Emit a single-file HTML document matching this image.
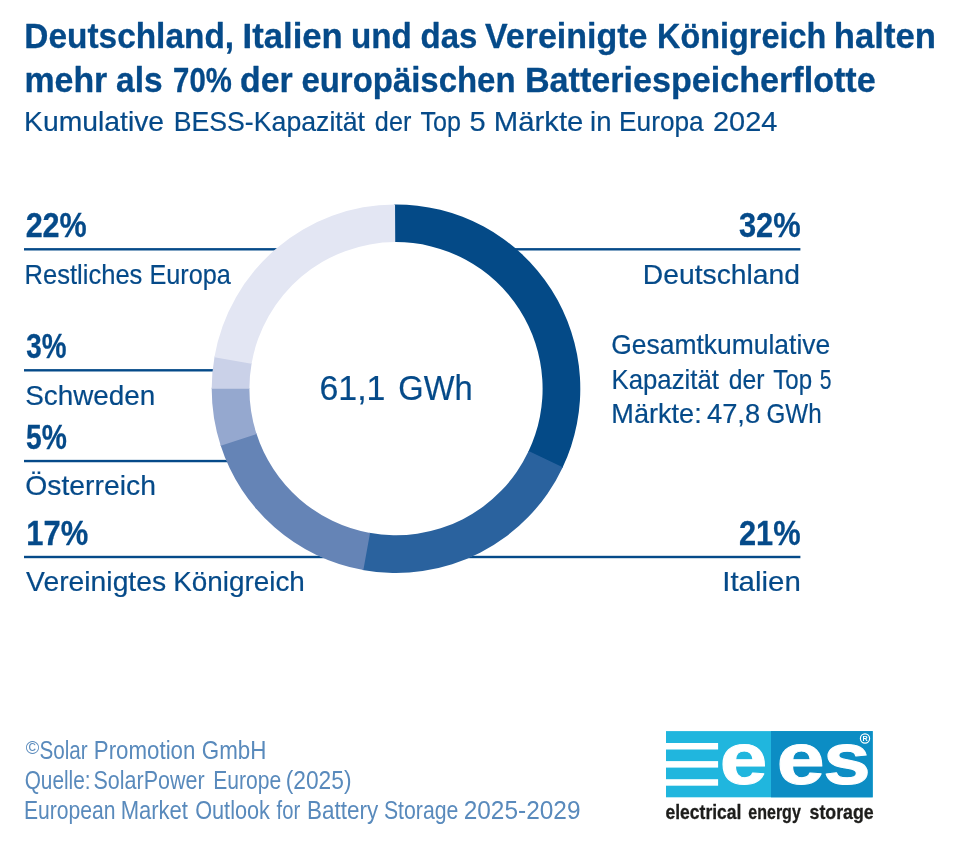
<!DOCTYPE html>
<html lang="de"><head><meta charset="utf-8"><title>BESS Europa 2024</title>
<style>
html,body{margin:0;padding:0;background:#fff}
body{width:955px;height:845px;overflow:hidden}
svg{display:block}
text{font-family:"Liberation Sans",sans-serif;stroke-linejoin:round}
.b{font-weight:700}
</style></head><body>
<svg width="955" height="845" viewBox="0 0 955 845">
<rect width="955" height="845" fill="#fff"/>
<rect x="24.0" y="248.10" width="776.40" height="2.4" fill="#054A89"/>
<rect x="24.0" y="369.10" width="276.00" height="2.4" fill="#054A89"/>
<rect x="24.0" y="459.85" width="276.00" height="2.4" fill="#054A89"/>
<rect x="24.0" y="555.80" width="776.40" height="2.4" fill="#054A89"/>
<circle cx="396.0" cy="388.7" r="183.8" fill="#fff"/>
<path d="M394.07 204.41A184.3 184.3 0 0 1 562.35 468.04L528.32 451.81A146.6 146.6 0 0 0 394.46 242.11Z" fill="#044A87"/>
<path d="M562.76 467.17A184.3 184.3 0 0 1 362.41 569.91L369.28 532.85A146.6 146.6 0 0 0 528.65 451.12Z" fill="#2A629E"/>
<path d="M363.36 570.09A184.3 184.3 0 0 1 220.42 444.73L256.34 433.27A146.6 146.6 0 0 0 370.04 532.98Z" fill="#6584B6"/>
<path d="M220.72 445.65A184.3 184.3 0 0 1 211.70 387.74L249.40 387.93A146.6 146.6 0 0 0 256.58 434.00Z" fill="#95A8CF"/>
<path d="M211.70 388.70A184.3 184.3 0 0 1 214.56 356.38L251.67 362.99A146.6 146.6 0 0 0 249.40 388.70Z" fill="#CAD1E8"/>
<path d="M214.39 357.33A184.3 184.3 0 0 1 395.04 204.40L395.23 242.10A146.6 146.6 0 0 0 251.54 363.75Z" fill="#E3E6F3"/>
<text y="48.35" font-size="35.3" class="b" fill="#054A89" stroke="#054A89" stroke-width="0.3"><tspan x="24.30" textLength="209.80" lengthAdjust="spacingAndGlyphs">Deutschland,</tspan> <tspan x="242.59" textLength="100.21" lengthAdjust="spacingAndGlyphs">Italien</tspan> <tspan x="350.89" textLength="60.92" lengthAdjust="spacingAndGlyphs">und</tspan> <tspan x="420.56" textLength="56.85" lengthAdjust="spacingAndGlyphs">das</tspan> <tspan x="484.99" textLength="162.40" lengthAdjust="spacingAndGlyphs">Vereinigte</tspan> <tspan x="657.08" textLength="169.11" lengthAdjust="spacingAndGlyphs">Königreich</tspan> <tspan x="833.77" textLength="102.17" lengthAdjust="spacingAndGlyphs">halten</tspan></text>
<text y="91.8" font-size="35.3" class="b" fill="#054A89" stroke="#054A89" stroke-width="0.3"><tspan x="24.42" textLength="82.89" lengthAdjust="spacingAndGlyphs">mehr</tspan> <tspan x="116.05" textLength="46.56" lengthAdjust="spacingAndGlyphs">als</tspan> <tspan x="173.11" textLength="58.75" lengthAdjust="spacingAndGlyphs">70%</tspan> <tspan x="240.02" textLength="52.70" lengthAdjust="spacingAndGlyphs">der</tspan> <tspan x="301.39" textLength="214.19" lengthAdjust="spacingAndGlyphs">europäischen</tspan> <tspan x="524.93" textLength="350.80" lengthAdjust="spacingAndGlyphs">Batteriespeicherflotte</tspan></text>
<text y="130.55" font-size="28.3" fill="#054A89" stroke="#054A89" stroke-width="0.2"><tspan x="24.11" textLength="139.98" lengthAdjust="spacingAndGlyphs">Kumulative</tspan> <tspan x="173.71" textLength="191.27" lengthAdjust="spacingAndGlyphs">BESS-Kapazität</tspan> <tspan x="374.86" textLength="36.44" lengthAdjust="spacingAndGlyphs">der</tspan> <tspan x="420.59" textLength="40.41" lengthAdjust="spacingAndGlyphs">Top</tspan> <tspan x="469.60" textLength="16.16" lengthAdjust="spacingAndGlyphs">5</tspan> <tspan x="493.83" textLength="89.50" lengthAdjust="spacingAndGlyphs">Märkte</tspan> <tspan x="590.12" textLength="21.41" lengthAdjust="spacingAndGlyphs">in</tspan> <tspan x="619.07" textLength="84.59" lengthAdjust="spacingAndGlyphs">Europa</tspan> <tspan x="712.93" textLength="64.45" lengthAdjust="spacingAndGlyphs">2024</tspan></text>
<text y="237.2" font-size="35.3" class="b" fill="#054A89" stroke="#054A89" stroke-width="0.3"><tspan x="25.63" textLength="61.11" lengthAdjust="spacingAndGlyphs">22%</tspan></text>
<text y="283.8" font-size="28.3" fill="#054A89" stroke="#054A89" stroke-width="0.2"><tspan x="24.49" textLength="117.89" lengthAdjust="spacingAndGlyphs">Restliches</tspan> <tspan x="149.40" textLength="81.46" lengthAdjust="spacingAndGlyphs">Europa</tspan></text>
<text y="358.1" font-size="35.3" class="b" fill="#054A89" stroke="#054A89" stroke-width="0.3"><tspan x="26.33" textLength="40.21" lengthAdjust="spacingAndGlyphs">3%</tspan></text>
<text y="404.6" font-size="28.3" fill="#054A89" stroke="#054A89" stroke-width="0.2"><tspan x="25.17" textLength="130.18" lengthAdjust="spacingAndGlyphs">Schweden</tspan></text>
<text y="448.8" font-size="35.3" class="b" fill="#054A89" stroke="#054A89" stroke-width="0.3"><tspan x="26.00" textLength="40.78" lengthAdjust="spacingAndGlyphs">5%</tspan></text>
<text y="495.2" font-size="28.3" fill="#054A89" stroke="#054A89" stroke-width="0.2"><tspan x="25.35" textLength="130.54" lengthAdjust="spacingAndGlyphs">Österreich</tspan></text>
<text y="544.8" font-size="35.3" class="b" fill="#054A89" stroke="#054A89" stroke-width="0.3"><tspan x="26.37" textLength="61.91" lengthAdjust="spacingAndGlyphs">17%</tspan></text>
<text y="591.0" font-size="28.3" fill="#054A89" stroke="#054A89" stroke-width="0.2"><tspan x="26.10" textLength="140.04" lengthAdjust="spacingAndGlyphs">Vereinigtes</tspan> <tspan x="173.25" textLength="131.58" lengthAdjust="spacingAndGlyphs">Königreich</tspan></text>
<text y="237.2" font-size="35.3" class="b" fill="#054A89" stroke="#054A89" stroke-width="0.3"><tspan x="738.91" textLength="61.67" lengthAdjust="spacingAndGlyphs">32%</tspan></text>
<text y="283.8" font-size="28.3" fill="#054A89" stroke="#054A89" stroke-width="0.2"><tspan x="642.86" textLength="157.10" lengthAdjust="spacingAndGlyphs">Deutschland</tspan></text>
<text y="544.8" font-size="35.3" class="b" fill="#054A89" stroke="#054A89" stroke-width="0.3"><tspan x="738.94" textLength="61.65" lengthAdjust="spacingAndGlyphs">21%</tspan></text>
<text y="591.0" font-size="28.3" fill="#054A89" stroke="#054A89" stroke-width="0.2"><tspan x="722.28" textLength="78.52" lengthAdjust="spacingAndGlyphs">Italien</tspan></text>
<text y="353.6" font-size="28.3" fill="#054A89" stroke="#054A89" stroke-width="0.2"><tspan x="611.29" textLength="218.92" lengthAdjust="spacingAndGlyphs">Gesamtkumulative</tspan></text>
<text y="388.5" font-size="28.3" fill="#054A89" stroke="#054A89" stroke-width="0.2"><tspan x="611.48" textLength="107.40" lengthAdjust="spacingAndGlyphs">Kapazität</tspan> <tspan x="728.69" textLength="35.72" lengthAdjust="spacingAndGlyphs">der</tspan> <tspan x="773.25" textLength="38.79" lengthAdjust="spacingAndGlyphs">Top</tspan> <tspan x="819.63" textLength="11.75" lengthAdjust="spacingAndGlyphs">5</tspan></text>
<text y="423.3" font-size="28.3" fill="#054A89" stroke="#054A89" stroke-width="0.2"><tspan x="611.30" textLength="90.42" lengthAdjust="spacingAndGlyphs">Märkte:</tspan> <tspan x="706.96" textLength="53.16" lengthAdjust="spacingAndGlyphs">47,8</tspan> <tspan x="766.46" textLength="55.18" lengthAdjust="spacingAndGlyphs">GWh</tspan></text>
<text y="399.9" font-size="34.6" fill="#054A89" stroke="#054A89" stroke-width="0.2"><tspan x="319.50" textLength="65.96" lengthAdjust="spacingAndGlyphs">61,1</tspan> <tspan x="398.37" textLength="74.33" lengthAdjust="spacingAndGlyphs">GWh</tspan></text>
<text y="758.7" font-size="25.2" fill="#598ABC"><tspan x="25.7" y="753.9" font-size="18.5" textLength="13.5" lengthAdjust="spacingAndGlyphs">©</tspan><tspan x="39.40" y="758.7" textLength="48.22" lengthAdjust="spacingAndGlyphs">Solar</tspan> <tspan x="93.80" y="758.7" textLength="101.61" lengthAdjust="spacingAndGlyphs">Promotion</tspan> <tspan x="201.86" y="758.7" textLength="64.59" lengthAdjust="spacingAndGlyphs">GmbH</tspan></text>
<text y="788.65" font-size="25.2" fill="#598ABC"><tspan x="24.70" textLength="65.90" lengthAdjust="spacingAndGlyphs">Quelle:</tspan> <tspan x="93.55" textLength="111.04" lengthAdjust="spacingAndGlyphs">SolarPower</tspan> <tspan x="213.22" textLength="67.97" lengthAdjust="spacingAndGlyphs">Europe</tspan> <tspan x="285.72" textLength="65.78" lengthAdjust="spacingAndGlyphs">(2025)</tspan></text>
<text y="818.6" font-size="25.2" fill="#598ABC"><tspan x="24.00" textLength="91.61" lengthAdjust="spacingAndGlyphs">European</tspan> <tspan x="120.64" textLength="67.37" lengthAdjust="spacingAndGlyphs">Market</tspan> <tspan x="195.16" textLength="74.82" lengthAdjust="spacingAndGlyphs">Outlook</tspan> <tspan x="276.57" textLength="23.59" lengthAdjust="spacingAndGlyphs">for</tspan> <tspan x="307.08" textLength="71.16" lengthAdjust="spacingAndGlyphs">Battery</tspan> <tspan x="383.96" textLength="74.39" lengthAdjust="spacingAndGlyphs">Storage</tspan> <tspan x="463.67" textLength="116.82" lengthAdjust="spacingAndGlyphs">2025-2029</tspan></text>
<text y="818.6" font-size="19.8" class="b" fill="#1d1d1b" stroke="#1d1d1b" stroke-width="0.3"><tspan x="665.44" textLength="76.00" lengthAdjust="spacingAndGlyphs">electrical</tspan> <tspan x="748.30" textLength="52.51" lengthAdjust="spacingAndGlyphs">energy</tspan> <tspan x="809.59" textLength="64.13" lengthAdjust="spacingAndGlyphs">storage</tspan></text>
<rect x="666" y="731.1" width="206.7" height="66.2" fill="#20B6DE"/>
<rect x="771" y="731.1" width="101.7" height="66.2" fill="#0C8DC4"/>
<rect x="666" y="743.0" width="52.1" height="6.5" fill="#fff"/>
<rect x="666" y="761.1" width="52.1" height="6.5" fill="#fff"/>
<rect x="666" y="779.2" width="52.1" height="6.5" fill="#fff"/>
<circle cx="865" cy="738.5" r="4.6" fill="none" stroke="#fff" stroke-width="1.2"/>
<text x="865.00" y="741.2" font-size="7.2" class="b" text-anchor="middle" fill="#fff">R</text>
<text x="719.80" y="784.30" font-size="73.80" class="b" textLength="47.62" lengthAdjust="spacingAndGlyphs" fill="#fff" stroke="#fff" stroke-width="1.0">e</text>
<text x="776.83" y="784.30" font-size="73.80" class="b" textLength="47.96" lengthAdjust="spacingAndGlyphs" fill="#fff" stroke="#fff" stroke-width="1.0">e</text>
<text x="823.23" y="784.30" font-size="73.80" class="b" textLength="47.43" lengthAdjust="spacingAndGlyphs" fill="#fff" stroke="#fff" stroke-width="1.0">s</text>
</svg></body></html>
